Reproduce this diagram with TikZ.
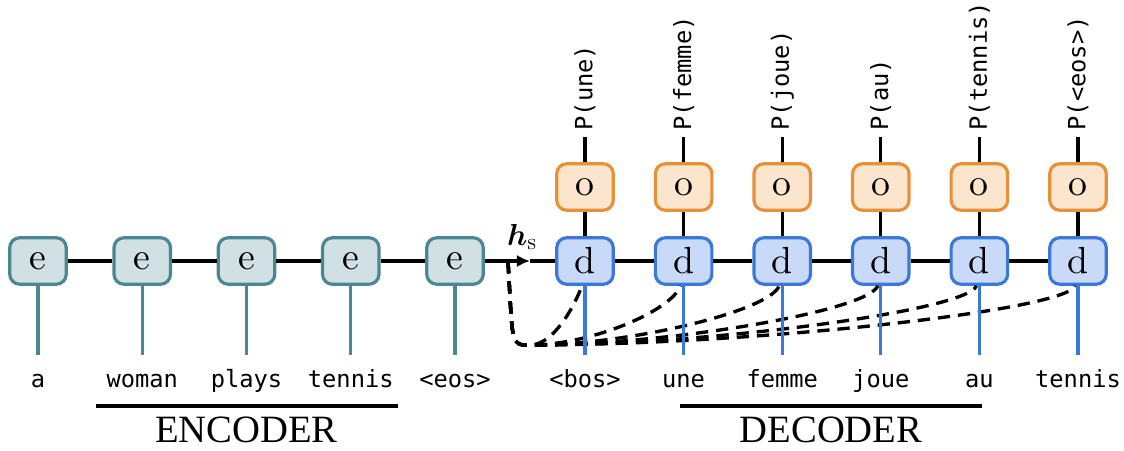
\documentclass[tikz,border=0pt]{standalone}
\usepackage{amsmath}
\usepackage{fontspec}
\newfontfamily\tokfont{DejaVu Sans Mono}
\newfontfamily\partfont{Liberation Serif}
\usetikzlibrary{arrows.meta,calc}
\definecolor{encfill}{HTML}{D0E0E3}
\definecolor{encdraw}{HTML}{4A8793}
\definecolor{decfill}{HTML}{C9DAF8}
\definecolor{decdraw}{HTML}{3C78D8}
\definecolor{outfill}{HTML}{FCE5CD}
\definecolor{outdraw}{HTML}{E69138}
\newcommand{\cellsym}[1]{\scalebox{2.15}{#1}}
\begin{document}
\begin{tikzpicture}[
    cell/.style={rectangle, rounded corners=0.2cm, draw=#1, line width=1.8pt, minimum width=1.13cm, minimum height=0.93cm, inner sep=0pt, font=\fontsize{10}{12}\selectfont},
    enc/.style={cell=encdraw, fill=encfill},
    dec/.style={cell=decdraw, fill=decfill},
    outcell/.style={cell=outdraw, fill=outfill},
    token/.style={anchor=base, font=\tokfont\fontsize{13.5}{13.5}\selectfont, text height=0.6cm, inner xsep=0pt, inner ysep=0.04cm},
    prob/.style={rotate=90, anchor=west, font=\tokfont\fontsize{13.5}{13.5}\selectfont, inner xsep=3.5pt, inner ysep=1pt},
    link/.style={line width=1.9pt},
    feed/.style={line width=1.8pt, draw=#1},
    attn/.style={line width=1.9pt, dash pattern=on 7pt off 4.5pt},
    part/.style={anchor=base, font=\partfont\fontsize{22}{22}\selectfont, inner sep=0pt},
    partline/.style={line width=1.8pt}
]
    \useasboundingbox (0,0) rectangle (22.48,9);

    % Encoder
    \foreach \w [count=\i] in {a, woman, plays, tennis, <eos>} {
        \node[enc] (e\i) at ({0.76+2.085*(\i-1)}, 3.78) {\cellsym{e}};
        \node[token] (x\i) at ({0.76+2.085*(\i-1)}, 1.26) {\w};
        \draw[feed=encdraw] (e\i.south) -- (x\i.north);
    }
    \foreach \i [evaluate=\i as \j using int(\i+1)] in {1,...,4} {
        \draw[link] (e\i) -- (e\j);
    }

    % Decoder
    \foreach \w/\p [count=\i] in {<bos>/une, une/femme, femme/joue, joue/au, au/tennis, tennis/<eos>} {
        \node[dec] (d\i) at ({11.70+1.972*(\i-1)}, 3.78) {\cellsym{d}};
        \node[outcell] (o\i) at ({11.70+1.972*(\i-1)}, 5.26) {\cellsym{o}};
        \node[token] (y\i) at ({11.70+1.972*(\i-1)}, 1.26) {\w};
        \node[prob] (p\i) at ({11.70+1.972*(\i-1)}, 6.26) {P(\p)};
        \draw[link] (o\i) -- (d\i);
        \draw[link] (o\i) -- (p\i);
    }
    \foreach \i [evaluate=\i as \j using int(\i+1)] in {1,...,5} {
        \draw[link] (d\i) -- (d\j);
    }

    % Etat cache
    \coordinate (hs) at (10.6, 3.78);
    \draw[link, -{Latex[length=7.5pt, width=7pt]}] (e5) -- (hs);
    \draw[link] (hs) -- (d1);
    \node[anchor=base, font=\fontsize{16}{16}\selectfont, inner sep=0pt] (hslab) at (10.44, 4.1) {$\boldsymbol{h}_{\text{\fontsize{13}{13}\selectfont s}}$};

    % Attention
    \coordinate (dstart) at (10.16, 3.78);
    \coordinate (dcorner) at (10.6, 2.1);
    \foreach \i in {1,...,6} {
        \draw[attn] (dstart) .. controls ($(dstart)+(0.1,-1.7)$) and ($(dcorner)+(-0.4,0)$) .. (dcorner)
            .. controls ($(dcorner)!0.4!(dcorner -| d\i.south)$) and ($(d\i.south)+(-0.25,-0.5)$) .. ([xshift=-0.06cm]d\i.south);
    }
    \foreach \i in {1,...,6} {
        \draw[feed=decdraw] (d\i.south) -- (y\i.north);
    }

    % Parties
    \foreach \t/\x in {ENCODER/4.93, DECODER/16.62} {
        \node[part] (lab\t) at (\x, 0.16) {\t};
        \draw[partline] (\x-3.02, 0.88) -- (\x+3.02, 0.88);
    }

\end{tikzpicture}
\end{document}
